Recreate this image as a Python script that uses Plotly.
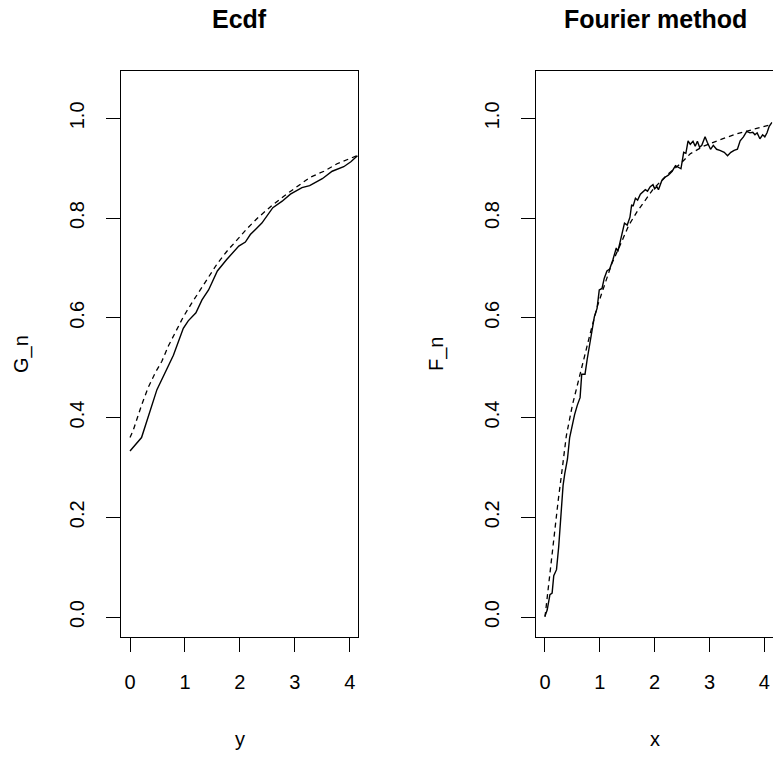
import plotly.graph_objects as go

# Ecdf panel: empirical (solid) and true (dashed)
ecdf_x = [0.0, 0.21, 0.49, 0.79, 0.97, 1.06, 1.2, 1.31, 1.43, 1.59, 1.76, 1.98, 2.1, 2.19,
          2.4, 2.6, 2.77, 2.92, 3.13, 3.27, 3.5, 3.68, 3.89, 4.02, 4.14]
ecdf_y = [0.333, 0.360, 0.456, 0.525, 0.579, 0.594, 0.610, 0.636, 0.656, 0.694, 0.717, 0.744,
          0.752, 0.767, 0.790, 0.821, 0.834, 0.848, 0.861, 0.865, 0.879, 0.894, 0.903, 0.913, 0.925]
ecdf_true_x = [0.0, 0.06, 0.21, 0.33, 0.46, 0.58, 0.70, 0.82, 0.97, 1.12, 1.28, 1.43, 1.59, 1.76,
               1.95, 2.13, 2.34, 2.58, 2.8, 3.04, 3.28, 3.53, 3.77, 4.15]
ecdf_true_y = [0.360, 0.375, 0.425, 0.46, 0.49, 0.513, 0.544, 0.571, 0.602, 0.629, 0.656, 0.683,
               0.709, 0.733, 0.756, 0.779, 0.802, 0.825, 0.844, 0.863, 0.882, 0.894, 0.909, 0.926]

# Fourier method panel
four_x = [0.0, 0.04, 0.09, 0.13, 0.16, 0.21, 0.25, 0.30, 0.33, 0.36, 0.41, 0.45, 0.50, 0.54,
          0.59, 0.64, 0.67, 0.73, 0.77, 0.81, 0.86, 0.90, 0.95, 0.99, 1.04, 1.08, 1.13, 1.18,
          1.24, 1.30, 1.33, 1.38, 1.42, 1.45, 1.50, 1.55, 1.58, 1.61, 1.65, 1.69, 1.74, 1.79,
          1.83, 1.87, 1.92, 1.97, 2.0, 2.04, 2.07, 2.13, 2.19, 2.25, 2.32, 2.38, 2.44, 2.48,
          2.53, 2.57, 2.61, 2.65, 2.70, 2.74, 2.78, 2.82, 2.86, 2.92, 2.96, 3.02, 3.07, 3.13,
          3.19, 3.27, 3.33, 3.39, 3.45, 3.51, 3.56, 3.62, 3.68, 3.74, 3.79, 3.83, 3.87, 3.92,
          3.97, 4.01, 4.05, 4.09, 4.14]
four_y = [0.002, 0.014, 0.045, 0.048, 0.083, 0.095, 0.141, 0.214, 0.264, 0.287, 0.317, 0.360,
          0.390, 0.406, 0.425, 0.440, 0.487, 0.487, 0.517, 0.544, 0.575, 0.602, 0.619, 0.656,
          0.659, 0.679, 0.694, 0.698, 0.717, 0.740, 0.733, 0.756, 0.771, 0.790, 0.786, 0.802,
          0.826, 0.825, 0.840, 0.836, 0.848, 0.852, 0.857, 0.854, 0.863, 0.867, 0.859, 0.863,
          0.857, 0.875, 0.882, 0.886, 0.894, 0.905, 0.901, 0.899, 0.932, 0.930, 0.955, 0.948,
          0.954, 0.944, 0.954, 0.942, 0.946, 0.963, 0.952, 0.938, 0.946, 0.938, 0.936, 0.932,
          0.925, 0.932, 0.936, 0.938, 0.955, 0.963, 0.974, 0.971, 0.972, 0.967, 0.971, 0.959,
          0.967, 0.963, 0.971, 0.984, 0.992]
four_true_x = [0.0, 0.07, 0.15, 0.24, 0.32, 0.39, 0.50, 0.60, 0.71, 0.83, 0.96, 1.10, 1.22, 1.38,
               1.53, 1.68, 1.83, 1.98, 2.22, 2.47, 2.65, 2.89, 3.19, 3.50, 3.8, 4.14]
four_true_y = [0.0, 0.071, 0.148, 0.233, 0.302, 0.364, 0.425, 0.471, 0.517, 0.571, 0.625, 0.671,
               0.709, 0.748, 0.786, 0.813, 0.836, 0.859, 0.886, 0.909, 0.929, 0.944, 0.957, 0.969,
               0.978, 0.988]

x_ticks = [0, 1, 2, 3, 4]
y_ticks = [0.0, 0.2, 0.4, 0.6, 0.8, 1.0]
y_tick_text = ["0.0", "0.2", "0.4", "0.6", "0.8", "1.0"]

W, H = 773, 758
FONT = "Liberation Sans, Arial, sans-serif"

fig = go.Figure()
line_solid = dict(color="black", width=1.4)
line_dash = dict(color="black", width=1.3, dash="5px,4px")

fig.add_trace(go.Scatter(x=ecdf_x, y=ecdf_y, mode="lines", line=line_solid, xaxis="x", yaxis="y"))
fig.add_trace(go.Scatter(x=ecdf_true_x, y=ecdf_true_y, mode="lines", line=line_dash, xaxis="x", yaxis="y"))
fig.add_trace(go.Scatter(x=four_x, y=four_y, mode="lines", line=line_solid, xaxis="x2", yaxis="y2"))
fig.add_trace(go.Scatter(x=four_true_x, y=four_true_y, mode="lines", line=line_dash, xaxis="x2", yaxis="y2"))


def px_x(p):
    return p / W


def px_y(p):
    return 1 - p / H


ax_common = dict(
    showgrid=False, zeroline=False, showline=True, mirror=True,
    linecolor="black", linewidth=1.2, ticks="outside", ticklen=14, tickwidth=1.2,
    tickcolor="black", tickfont=dict(family=FONT, size=20, color="black"),
)
xr = [-0.164, 4.15]
yr = [-0.04, 1.095]
ydom = [px_y(637), px_y(71)]

fig.update_layout(
    width=W, height=H,
    margin=dict(l=0, r=0, t=0, b=0),
    paper_bgcolor="white", plot_bgcolor="white",
    showlegend=False,
    xaxis=dict(domain=[px_x(121), px_x(358)], range=xr, tickvals=x_ticks, anchor="y",
               ticklabelstandoff=13, **ax_common),
    yaxis=dict(domain=ydom, range=yr, tickvals=y_ticks, ticktext=y_tick_text, tickangle=-90,
               anchor="x", ticklabelstandoff=14, **ax_common),
    xaxis2=dict(domain=[px_x(536), px_x(772.5)], range=xr, tickvals=x_ticks, anchor="y2",
                ticklabelstandoff=13, **ax_common),
    yaxis2=dict(domain=ydom, range=yr, tickvals=y_ticks, ticktext=y_tick_text, tickangle=-90,
                anchor="x2", ticklabelstandoff=14, **ax_common),
)

title_font = dict(family=FONT, size=25, color="black")
lab_font = dict(family=FONT, size=20, color="black")
annots = [
    dict(text="<b>Ecdf</b>", x=px_x(240), y=px_y(19), font=title_font),
    dict(text="<b>Fourier method</b>", x=px_x(655), y=px_y(19), font=title_font),
    dict(text="y", x=px_x(240), y=px_y(739), font=lab_font),
    dict(text="x", x=px_x(655), y=px_y(739), font=lab_font),
    dict(text="G_n", x=px_x(21), y=px_y(354), font=lab_font, textangle=-90),
    dict(text="F_n", x=px_x(436), y=px_y(354), font=lab_font, textangle=-90),
]
for a in annots:
    fig.add_annotation(xref="paper", yref="paper", showarrow=False,
                       xanchor="center", yanchor="middle", **a)

# drop the default 8px page margin so the figure fills the window exactly
fig.write_html("out.html", config={"displayModeBar": False},
               post_script="document.body.style.margin='0px';")
